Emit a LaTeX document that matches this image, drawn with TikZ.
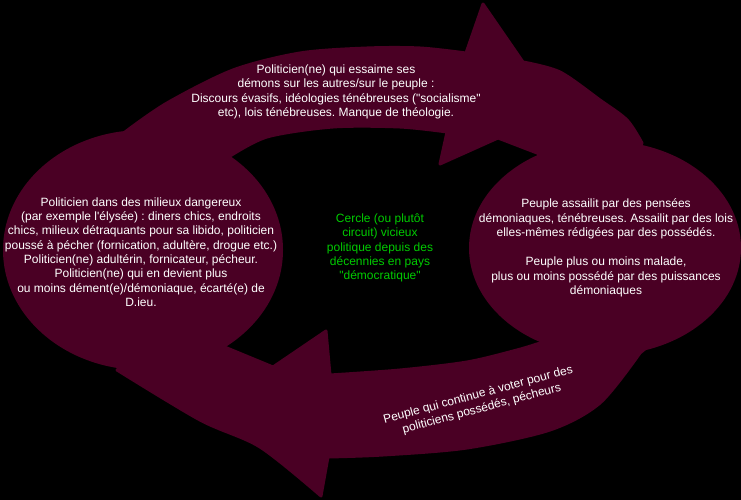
\documentclass[tikz,border=0pt]{standalone}
\usepackage{fontspec}
\setmainfont{Liberation Sans}
\usetikzlibrary{shapes.geometric}
\definecolor{cyclemaroon}{RGB}{74,0,36}
\definecolor{cyclegreen}{RGB}{0,204,0}
\frenchspacing
\begin{document}
\begin{tikzpicture}
  [x=1pt, y=-1pt,
   blob/.style={ellipse, fill=cyclemaroon, inner sep=0pt},
   band/.style={fill=cyclemaroon, draw=cyclemaroon, line width=3pt, line join=round},
   txt/.style={text=white, align=center, inner sep=0pt, font=\fontsize{12}{14.3}\selectfont}]
  \fill[black] (0,0) rectangle (741,500);
  \useasboundingbox (0,0) rectangle (741,500);

  \path[band] (110,150) -- plot[smooth] coordinates {(125,132) (167,103) (233,70) (300,53) (367,48) (420,48) (466,53)}
    -- (483,4) -- plot[smooth] coordinates {(523,62) (560,72) (600,100) (627,120) (642,143)}
    -- (620,200) -- (537,153) -- (498,138) -- (440,164)
    -- plot[smooth] coordinates {(447,132) (400,127) (333,127) (267,137) (227,158)}
    -- (200,200) -- cycle;
  \path[band] (680,320) -- plot[smooth] coordinates {(640,353) (600,403) (550,430) (467,448) (383,455) (328,457)}
    -- plot[smooth] coordinates {(321,496) (260,447) (200,420) (117,370)}
    -- (180,330) -- (227,348) -- (273,367) -- (326,331)
    -- plot[smooth] coordinates {(330,375) (400,370) (467,362) (517,350) (540,343)}
    -- (600,300) -- cycle;

  \node[blob, minimum width=280pt, minimum height=240pt] (pol) at (143,250) {};
  \node[blob, minimum width=272pt, minimum height=214pt] (peuple) at (605,248) {};

  \node[txt] (poltxt) at (141,252) {Politicien dans des milieux dangereux\\
    (par exemple l\textquotesingle élysée) : diners chics, endroits\\
    chics, milieux détraquants pour sa libido, politicien\\
    poussé à pécher (fornication, adultère, drogue etc.)\\
    Politicien(ne) adultérin, fornicateur, pécheur.\\
    Politicien(ne) qui en devient plus\\
    ou moins dément(e)/démoniaque, écarté(e) de\\
    D.ieu.};
  \node[txt] (peupletxt) at (606,248) {Peuple assailit par des pensées\\
    démoniaques, ténébreuses. Assailit par des lois\\
    elles-mêmes rédigées par des possédés.\\[15pt]
    Peuple plus ou moins malade,\\
    plus ou moins possédé par des puissances\\
    démoniaques};
  \node[txt, text=cyclegreen] (cercle) at (380,248) {Cercle (ou plutôt\\
    circuit) vicieux\\
    politique depuis des\\
    décennies en pays\\
    \textquotedbl démocratique\textquotedbl};
  \node[txt] (toptxt) at (336,92) {Politicien(ne) qui essaime ses\\
    démons sur les autres/sur le peuple :\\
    Discours évasifs, idéologies ténébreuses (\textquotedbl socialisme\textquotedbl\\
    etc), lois ténébreuses. Manque de théologie.};
  \node[txt, rotate=15] (bottxt) at (480,402) {Peuple qui continue à voter pour des\\
    politiciens possédés, pécheurs};
\end{tikzpicture}
\end{document}
